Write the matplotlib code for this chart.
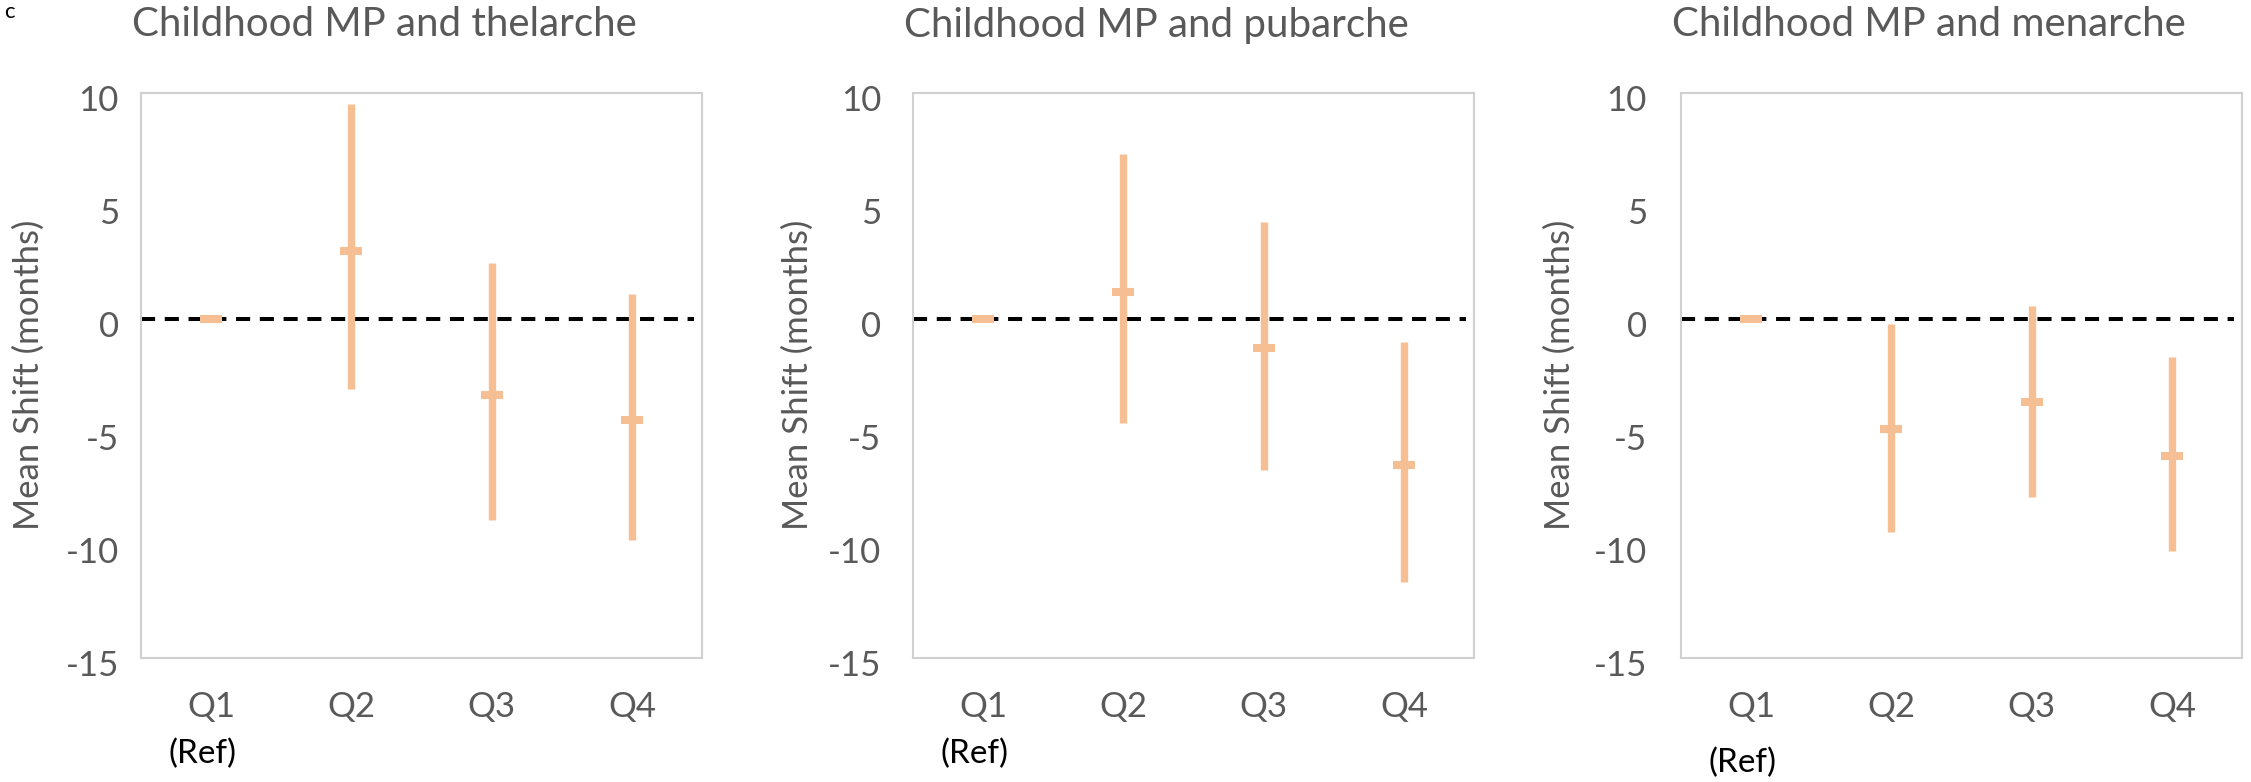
import matplotlib
matplotlib.use("Agg")
import matplotlib.pyplot as plt
import matplotlib.transforms as mtransforms
import numpy as np

plt.rcParams['font.family'] = ['Lato', 'DejaVu Sans']

# ---------------- data ----------------
categories = ["Q1", "Q2", "Q3", "Q4"]
titles = ["Childhood MP and thelarche",
          "Childhood MP and pubarche",
          "Childhood MP and menarche"]

thelarche_mean = [0.0, 2.98, -3.39, -4.50]
thelarche_low = [0.0, -3.11, -8.91, -9.79]
thelarche_high = [0.0, 9.50, 2.46, 1.08]

pubarche_mean = [0.0, 1.19, -1.30, -6.48]
pubarche_low = [0.0, -4.60, -6.69, -11.65]
pubarche_high = [0.0, 7.27, 4.27, -1.02]

menarche_mean = [0.0, -4.89, -3.70, -6.09]
menarche_low = [0.0, -9.42, -7.89, -10.29]
menarche_high = [0.0, -0.23, 0.58, -1.69]

yticks = [10, 5, 0, -5, -10, -15]
ref_label = "(Ref)"
ylabel = "Mean Shift (months)"

panels = [
    (thelarche_mean, thelarche_low, thelarche_high),
    (pubarche_mean, pubarche_low, pubarche_high),
    (menarche_mean, menarche_low, menarche_high),
]

# ---------------- style ----------------
W, H = 2251, 782
DPI = 100
PEACH = "#F6BE93"
GREY_TXT = "#595959"
SPINE = "#D0D0D0"

fig = plt.figure(figsize=(W / DPI, H / DPI), dpi=DPI)

lefts_px = [141, 913, 1681]
width_px = 561
top_px, bottom_px = 92.7, 657.7
ref_y = [-0.170, -0.170, -0.186]
ytick_pad_pt = [16, 23, 24.5]
ylabel_off_px = [112, 115, 121]

for i, (mean, low, high) in enumerate(panels):
    ax = fig.add_axes([lefts_px[i] / W, 1 - bottom_px / H,
                       width_px / W, (bottom_px - top_px) / H])
    x = np.arange(len(categories))
    ax.set_xlim(-0.5, len(categories) - 0.5)
    ax.set_ylim(-15, 10)

    # reference dashed line at zero
    ax.axhline(0, xmin=0, xmax=0.985, color="black", lw=2.9,
               linestyle=(0, (3.5, 2.4)), zorder=1)

    # confidence intervals (skip the reference category)
    xs = x[1:]
    ax.vlines(xs, np.array(low)[1:], np.array(high)[1:], colors=PEACH,
              linewidth=5.3, capstyle="butt", zorder=2)
    # mean markers
    ax.plot(x, mean, linestyle="none", marker="_", ms=16.5, mew=5.8,
            color=PEACH, zorder=3)

    ax.set_xticks(x)
    ax.set_xticklabels(categories)
    ax.set_yticks(yticks)
    ax.set_yticklabels([str(t) for t in yticks])
    ax.tick_params(axis="both", length=0, labelsize=25, labelcolor=GREY_TXT)
    ax.tick_params(axis="y", pad=ytick_pad_pt[i])
    ax.tick_params(axis="x", pad=24)
    off = mtransforms.ScaledTranslation(0, -5 / DPI, fig.dpi_scale_trans)
    for lab in ax.get_yticklabels():
        lab.set_transform(lab.get_transform() + off)

    for sp in ax.spines.values():
        sp.set_color(SPINE)
        sp.set_linewidth(1.5)

    ax.set_ylabel(ylabel, fontsize=25, color=GREY_TXT, va="center")
    ax.yaxis.set_label_coords(-ylabel_off_px[i] / width_px, 0.5)

    ax.text(-0.06, ref_y[i], ref_label, transform=ax.get_xaxis_transform(),
            ha="center", va="center", fontsize=24, color="black")

    fig.text((lefts_px[i] - 9) / W, 1 - 25 / H, titles[i], ha="left",
             va="center", fontsize=29, color=GREY_TXT)

fig.text(4 / W, 1 - 2 / H, "c", ha="left", va="top", fontsize=16,
         color="black")

fig.savefig("out.png", dpi=DPI)
